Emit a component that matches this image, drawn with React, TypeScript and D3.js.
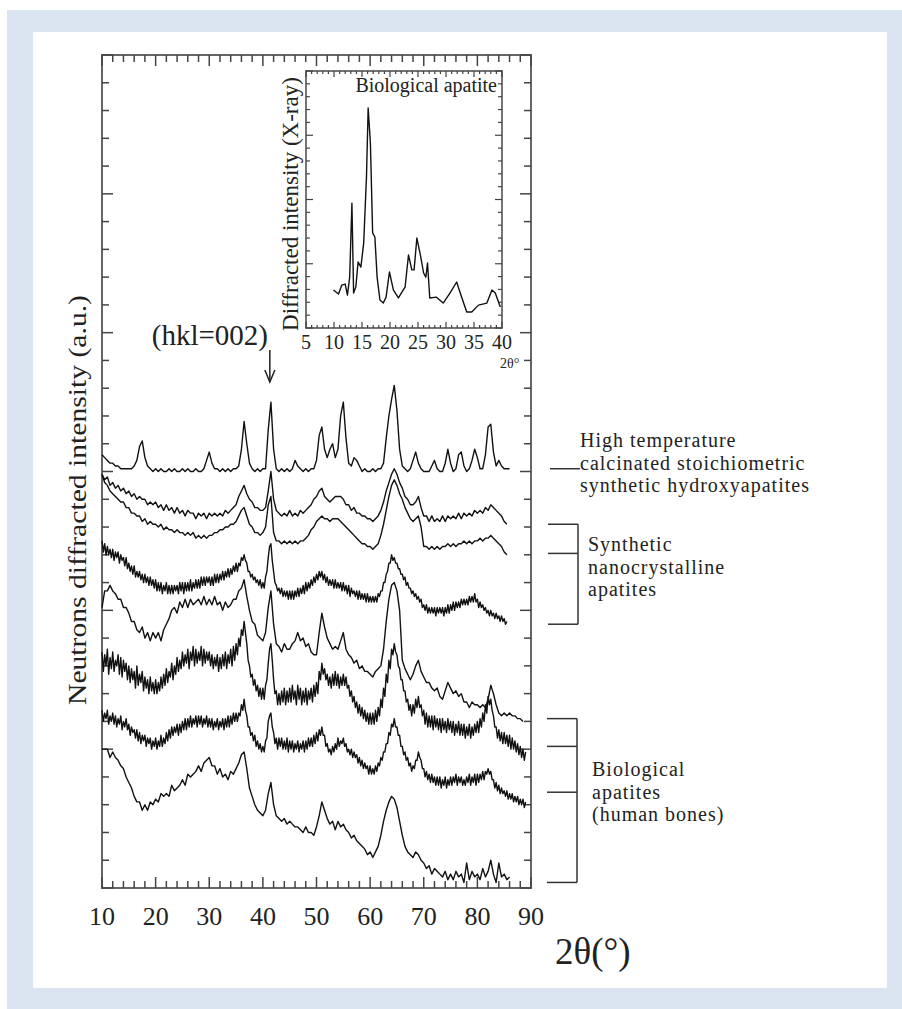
import React from 'react';
import * as d3 from 'd3';

// neutron patterns, all starting at 2θ = 10; smooth ones every 0.5°, noisy ones every 0.25°
const X_START = 10;
const COARSE = 0.5;
const FINE = 0.25;

const hightempHA = [
  156,155,154,153,153,152,152,151,151,151,
  151,151,152,154,159,161,155,152,151,150,
  151,150,151,150,150,151,150,151,150,150,
  151,150,151,150,150,151,150,150,151,154,
  157,153,151,151,150,151,150,151,150,151,
  151,152,158,168,160,153,151,150,151,150,
  151,151,165,175,158,151,150,151,150,151,
  150,151,154,152,151,150,151,150,151,151,
  154,163,166,158,155,158,160,155,158,170,
  175,162,153,152,155,154,152,150,151,150,
  150,151,150,151,151,153,162,170,176,181,
  172,158,152,151,150,151,154,157,153,151,
  150,150,150,152,154,151,150,150,153,158,
  153,150,151,156,157,152,150,151,154,158,
  155,151,151,156,166,167,157,152,154,152,
  151,151,151,
];

const nano1 = [
  149,147,148,145,146,144,145,143,144,142,
  143,141,142,140,141,140,140,138,139,138,
  139,137,138,136,138,136,137,135,137,135,
  136,134,136,135,135,133,135,134,135,133,
  135,134,135,134,135,134,136,135,136,137,
  138,141,143,145,142,140,139,137,137,136,
  136,137,143,150,140,136,135,134,135,134,
  136,134,135,134,136,135,136,137,138,140,
  141,143,144,141,140,139,140,141,141,141,
  140,138,138,136,137,135,135,134,134,133,
  133,132,133,134,136,139,143,146,149,151,
  149,146,144,141,140,138,138,139,141,137,
  134,134,132,134,132,133,132,134,132,134,
  133,134,133,135,133,135,134,135,134,136,
  135,136,135,137,136,138,137,136,135,134,
  132,131,
];

const nano2 = [
  149,146,145,143,142,141,140,139,139,137,
  137,135,135,134,134,132,133,131,132,131,
  131,130,131,129,130,129,129,128,129,128,
  128,127,128,127,128,126,127,126,127,126,
  127,127,128,128,129,129,130,130,131,131,
  132,134,136,137,134,131,130,128,128,127,
  128,130,138,141,128,125,125,124,125,124,
  125,124,125,124,125,125,126,127,129,130,
  132,133,134,133,133,132,133,133,133,132,
  131,130,129,128,127,126,125,124,124,123,
  123,122,123,124,127,131,136,141,145,147,
  145,142,140,137,135,133,132,133,134,130,
  123,123,122,123,122,123,122,123,123,124,
  123,124,123,124,124,125,124,125,124,125,
  125,126,125,126,126,127,126,125,124,123,
  121,120,
];

const nano3 = [
  125,121,124,120,123,120,122,119,122,118,121,119,121,117,120,118,119,116,119,115,
  117,114,116,113,116,112,114,112,114,111,113,110,113,110,112,109,112,109,111,108,
  111,107,110,107,110,106,109,107,110,106,109,106,109,106,109,107,109,106,110,107,
  110,106,110,107,110,107,111,107,110,108,111,108,111,108,112,109,112,109,112,110,
  112,109,112,109,113,110,113,110,113,111,114,111,114,112,115,112,115,113,116,114,
  117,114,117,116,119,118,120,118,117,114,114,112,113,111,112,110,111,109,111,108,
  110,108,112,114,119,123,124,118,114,110,109,107,108,106,108,105,107,105,107,104,
  107,104,107,104,107,105,108,105,108,106,109,106,110,107,110,108,111,109,112,110,
  113,111,114,112,114,111,113,110,112,109,111,109,111,108,111,108,110,108,110,107,
  110,107,109,106,109,105,108,106,107,105,107,104,107,104,106,104,106,103,106,103,
  105,103,105,103,105,103,106,105,107,107,110,110,113,114,117,117,120,118,119,117,
  117,115,115,113,113,111,112,109,110,108,108,106,107,105,106,104,105,103,104,101,
  102,100,102,99,101,99,101,99,101,98,101,99,101,99,101,98,101,99,102,99,
  102,100,103,100,103,101,103,101,104,102,104,102,104,102,105,103,105,103,106,103,
  104,101,103,101,102,100,101,99,100,98,100,98,99,97,99,97,98,96,98,96,
  97,95,96,
];

const bone1 = [
  101,107,107,109,107,106,104,104,101,101,
  99,96,96,93,92,94,90,92,89,92,
  90,92,89,93,95,97,100,101,99,103,
  101,104,101,104,102,103,104,102,105,102,
  104,102,105,102,103,100,103,101,102,104,
  104,107,108,111,105,100,96,95,91,90,
  89,92,101,107,95,88,87,85,88,86,
  86,88,89,92,89,90,87,88,85,84,
  84,92,99,94,90,88,86,87,86,89,
  92,86,84,83,81,82,79,80,78,78,
  77,76,78,79,80,86,96,104,109,110,
  107,100,82,79,77,75,77,80,82,78,
  76,74,74,72,71,72,69,68,71,74,
  72,70,71,69,70,67,67,65,67,66,
  66,65,66,65,68,73,70,66,63,62,
  63,62,63,62,62,61,61,60,
];

const bone2 = [
  85,78,84,80,86,77,83,79,85,78,82,80,84,77,83,76,82,78,81,75,
  80,74,79,75,78,72,80,73,77,74,78,71,76,72,75,70,76,71,74,70,
  75,70,74,71,76,72,77,73,79,74,78,76,81,75,80,77,83,78,82,79,
  85,80,84,81,86,79,85,82,87,80,86,81,85,82,87,80,86,81,85,82,
  85,80,84,79,83,80,84,78,83,79,84,80,85,79,84,81,86,80,87,82,
  88,84,90,87,93,91,96,92,88,82,80,76,77,73,75,71,73,69,72,68,
  72,68,73,75,81,86,88,82,75,70,71,66,70,66,71,67,72,66,71,67,
  72,67,73,68,71,66,73,68,72,66,71,67,72,66,71,68,72,67,73,69,
  74,70,78,75,81,77,79,75,77,73,76,72,77,73,78,73,77,72,76,73,
  77,73,76,72,73,69,71,67,69,65,67,63,66,62,65,61,64,60,63,59,
  63,59,63,59,64,60,65,62,68,65,72,69,77,74,82,79,86,84,88,85,
  84,80,79,75,75,71,71,67,68,64,66,62,66,63,68,65,69,65,66,62,
  64,59,63,58,62,58,62,57,62,58,61,57,61,56,61,57,60,56,61,57,
  60,56,60,55,59,56,60,55,59,55,59,54,58,55,59,54,58,55,59,56,
  60,56,61,58,63,60,66,63,69,66,68,64,62,58,58,54,57,53,56,52,
  56,52,55,51,55,50,54,50,53,49,52,48,51,47,50,46,49,
];

const bone3 = [
  64,60,63,61,64,59,62,60,63,59,62,58,61,59,62,57,60,58,61,57,
  59,55,58,56,57,54,57,53,56,52,55,53,55,51,54,52,54,50,53,51,
  54,50,53,51,55,51,54,52,56,53,57,54,58,55,58,56,59,55,59,56,
  60,57,61,57,61,58,62,58,61,59,62,58,62,59,62,58,61,59,62,58,
  61,58,61,57,60,58,61,57,60,58,61,57,61,58,62,58,62,59,63,60,
  63,60,63,62,66,64,68,64,62,58,58,55,56,53,55,51,53,50,52,49,
  51,49,53,54,60,62,63,58,56,52,54,50,54,51,54,50,53,50,54,49,
  53,50,53,49,52,50,53,49,52,50,53,49,53,50,54,51,54,51,55,52,
  56,53,57,55,58,55,55,51,52,49,50,48,51,49,52,50,54,51,53,52,
  54,51,52,49,50,48,50,47,49,47,48,45,47,44,46,43,45,43,44,41,
  44,41,43,41,44,42,45,44,47,46,49,49,52,52,56,55,59,58,61,58,
  58,55,55,51,51,48,49,46,47,44,45,42,44,43,46,46,49,47,46,43,
  43,40,42,39,41,38,41,38,40,37,40,37,40,36,39,37,40,36,39,37,
  40,37,40,38,41,37,40,38,40,37,39,37,40,38,41,37,40,38,41,37,
  41,38,41,39,42,39,42,41,43,41,42,39,39,36,38,35,37,34,36,34,
  35,33,35,32,34,32,34,31,33,31,33,30,32,30,32,29,31,
];

const bone4 = [
  50,50,50,47,49,47,46,44,43,40,
  38,36,33,31,31,28,30,28,31,30,
  32,31,34,33,34,33,37,35,36,37,
  39,37,41,40,41,42,44,42,45,46,
  47,44,44,41,43,40,41,39,42,41,
  43,45,48,49,43,36,33,30,28,27,
  26,28,34,38,30,26,25,24,25,23,
  24,23,22,22,21,20,22,20,20,19,
  22,26,31,28,25,23,24,21,24,22,
  23,21,20,18,19,17,16,15,14,12,
  13,11,13,15,19,24,28,31,33,32,
  29,24,19,15,13,12,11,13,12,10,
  9,7,8,5,7,6,5,4,6,3,
  5,3,6,4,5,2,9,3,6,4,
  5,3,7,4,6,10,5,2,9,4,
  5,3,4,
];

const patterns = [
  { values: hightempHA, step: COARSE },
  { values: nano1, step: COARSE },
  { values: nano2, step: COARSE },
  { values: nano3, step: FINE },
  { values: bone1, step: COARSE },
  { values: bone2, step: FINE },
  { values: bone3, step: FINE },
  { values: bone4, step: COARSE },
];

// inset: X-ray pattern of biological apatite
const insetTheta = [9.9,10.8,11.4,12,12.4,12.8,13.2,13.5,13.9,14.3,14.8,15.3,15.8,16.1,16.5,16.9,17.3,17.7,18.2,18.8,19.3,19.9,20.6,21.5,22.7,23.3,23.9,24.3,24.8,25.5,26,26.4,26.7,27.1,28.3,29.5,30.7,31.9,32.8,33.7,34.6,35.8,37.3,38.2,38.8,39.7];
const insetIntensity = [14.8,13.2,16.7,17.1,12.8,19.8,48.6,13.6,16,25.7,23.7,33,58.8,85.6,72,37,35.4,19.8,10.9,9.7,12,21.8,14.8,11.7,16,28.4,22.6,22.6,35,27.6,21.4,19.8,25.3,11.7,12,9.7,13.6,17.9,12,6.2,6.2,8.9,9.7,14.8,13.6,8.2];

const mainTickLabels = [10, 20, 30, 40, 50, 60, 70, 80, 90];
const insetTickLabels = [5, 10, 15, 20, 25, 30, 35, 40];

const htLabel = ['High temperature', 'calcinated stoichiometric', 'synthetic hydroxyapatites'];
const nanoLabel = ['Synthetic', 'nanocrystalline', 'apatites'];
const bioLabel = ['Biological', 'apatites', '(human bones)'];
const htLevel = 151;
const nanoLevels = [131, 120.5, 95];
const bioLevels = [61, 51, 34.5, 2];

const FONT = "'Liberation Serif', 'Times New Roman', serif";
const INK = '#222';
const AXIS = '#666';
const LINE_GAP = 22.5;

// a multi-line label drawn as one text element
function Block({ lines, x, y }: { lines: string[]; x: number; y: number }) {
  return (
    <text x={x} y={y} fontFamily={FONT} fontSize={20} letterSpacing={1} fill={INK}>
      {lines.map((s, i) => (
        <tspan key={i} x={x} dy={i === 0 ? 0 : LINE_GAP}>{s}</tspan>
      ))}
    </text>
  );
}

export default function App() {
  const W = 902, H = 1009;
  const plot = { left: 102, right: 531, top: 55, bottom: 888 };
  const inset = { left: 306, right: 502, top: 71, bottom: 328 };

  const x = d3.scaleLinear().domain([10, 90]).range([plot.left, plot.right]);
  const y = d3.scaleLinear().domain([0, 300]).range([plot.bottom, plot.top]);
  const ix = d3.scaleLinear().domain([5, 40]).range([inset.left, inset.right]);
  const iy = d3.scaleLinear().domain([0, 100]).range([inset.bottom, inset.top]);

  const patternPath = (values: number[], step: number) =>
    d3.line<number>()
      .x((_, i) => x(X_START + i * step))
      .y(d => y(d))(values) || '';

  const insetLine = d3.line<number>()
    .x((_, i) => ix(insetTheta[i]))
    .y(d => iy(d));

  const xTicks = d3.range(10, 90.01, 2);
  const yTicks = d3.range(0, 300.01, 10);
  const ixTicks = d3.range(5, 40.01, 1);
  const iyTicks = d3.range(0, 100.01, 5);

  return (
    <svg width={W} height={H} style={{ position: 'absolute', left: 0, top: 0 }}>
      <rect x={7} y={10} width={W - 7} height={H - 10} fill="#dbe5f1" />
      <rect x={33} y={32} width={854} height={956} fill="#fff" />

      {/* main frame and ticks */}
      <rect x={plot.left} y={plot.top} width={plot.right - plot.left} height={plot.bottom - plot.top}
        fill="none" stroke={AXIS} strokeWidth={2} />
      <g stroke="#444" strokeWidth={1.5}>
        {xTicks.map(t => {
          const len = t % 10 === 0 ? 11 : 7;
          return (
            <g key={'x' + t}>
              <line x1={x(t)} x2={x(t)} y1={plot.bottom} y2={plot.bottom - len} />
              <line x1={x(t)} x2={x(t)} y1={plot.top} y2={plot.top + len} />
            </g>
          );
        })}
        {yTicks.map(t => {
          const len = t % 50 === 0 ? 11 : 7;
          return (
            <g key={'y' + t}>
              <line x1={plot.left} x2={plot.left + len} y1={y(t)} y2={y(t)} />
              <line x1={plot.right} x2={plot.right - len} y1={y(t)} y2={y(t)} />
            </g>
          );
        })}
      </g>
      <g fontFamily={FONT} fontSize={26} fill={INK} textAnchor="middle">
        {mainTickLabels.map(t => (
          <text key={t} x={x(t)} y={925}>{t}</text>
        ))}
      </g>
      <text x={555} y={964} fontFamily={FONT} fontSize={37} fill={INK}>2θ(°)</text>
      <text transform="translate(86,500) rotate(-90)" textAnchor="middle" fontFamily={FONT}
        fontSize={26} fill={INK} textLength={410} lengthAdjust="spacingAndGlyphs">
        Neutrons diffracted intensity (a.u.)
      </text>

      {/* patterns */}
      <g fill="none" stroke="#111" strokeWidth={1.4} strokeLinejoin="round">
        {patterns.map((p, i) => <path key={i} d={patternPath(p.values, p.step)} />)}
      </g>

      {/* (002) marker */}
      <text x={268} y={345} textAnchor="end" fontFamily={FONT} fontSize={29} fill={INK}>(hkl=002)</text>
      <g stroke="#222" strokeWidth={1.5} fill="none">
        <line x1={x(41.3)} x2={x(41.3)} y1={350} y2={382} />
        <polyline points={`${x(41.3) - 5},370 ${x(41.3)},382 ${x(41.3) + 5},370`} />
      </g>

      {/* inset */}
      <rect x={inset.left} y={inset.top} width={inset.right - inset.left} height={inset.bottom - inset.top}
        fill="#fff" stroke={AXIS} strokeWidth={1.8} />
      <g stroke="#444" strokeWidth={1.2}>
        {ixTicks.map(t => {
          const len = t % 5 === 0 ? 6 : 3;
          return (
            <g key={'ix' + t}>
              <line x1={ix(t)} x2={ix(t)} y1={inset.bottom} y2={inset.bottom - len} />
              <line x1={ix(t)} x2={ix(t)} y1={inset.top} y2={inset.top + len} />
            </g>
          );
        })}
        {iyTicks.map(t => {
          const len = t % 25 === 0 ? 7 : 4;
          return (
            <g key={'iy' + t}>
              <line x1={inset.left} x2={inset.left + len} y1={iy(t)} y2={iy(t)} />
              <line x1={inset.right} x2={inset.right - len} y1={iy(t)} y2={iy(t)} />
            </g>
          );
        })}
      </g>
      <path d={insetLine(insetIntensity) || ''} fill="none" stroke="#111" strokeWidth={1.4} strokeLinejoin="round" />
      <text x={497} y={92} textAnchor="end" fontFamily={FONT} fontSize={20} fill={INK}>Biological apatite</text>
      <g fontFamily={FONT} fontSize={20} fill={INK} textAnchor="middle">
        {insetTickLabels.map(t => (
          <text key={t} x={ix(t)} y={349}>{t}</text>
        ))}
      </g>
      <text x={500} y={368} fontFamily={FONT} fontSize={14} fill={INK}>2θ°</text>
      <text transform="translate(298,204) rotate(-90)" textAnchor="middle" fontFamily={FONT}
        fontSize={23} fill={INK}>Diffracted intensity (X-ray)</text>

      {/* sample groups */}
      <g stroke="#333" strokeWidth={1.5} fill="none">
        <line x1={550} x2={580} y1={y(htLevel)} y2={y(htLevel)} />
        {nanoLevels.map(v => <line key={'n' + v} x1={548} x2={578} y1={y(v)} y2={y(v)} />)}
        <line x1={578} x2={578} y1={y(nanoLevels[0])} y2={y(nanoLevels[nanoLevels.length - 1])} />
        {bioLevels.map(v => <line key={'b' + v} x1={547} x2={577} y1={y(v)} y2={y(v)} />)}
        <line x1={577} x2={577} y1={y(bioLevels[0])} y2={y(bioLevels[bioLevels.length - 1])} />
      </g>
      <Block lines={htLabel} x={580} y={447} />
      <Block lines={nanoLabel} x={588} y={551} />
      <Block lines={bioLabel} x={592} y={776} />
    </svg>
  );
}
